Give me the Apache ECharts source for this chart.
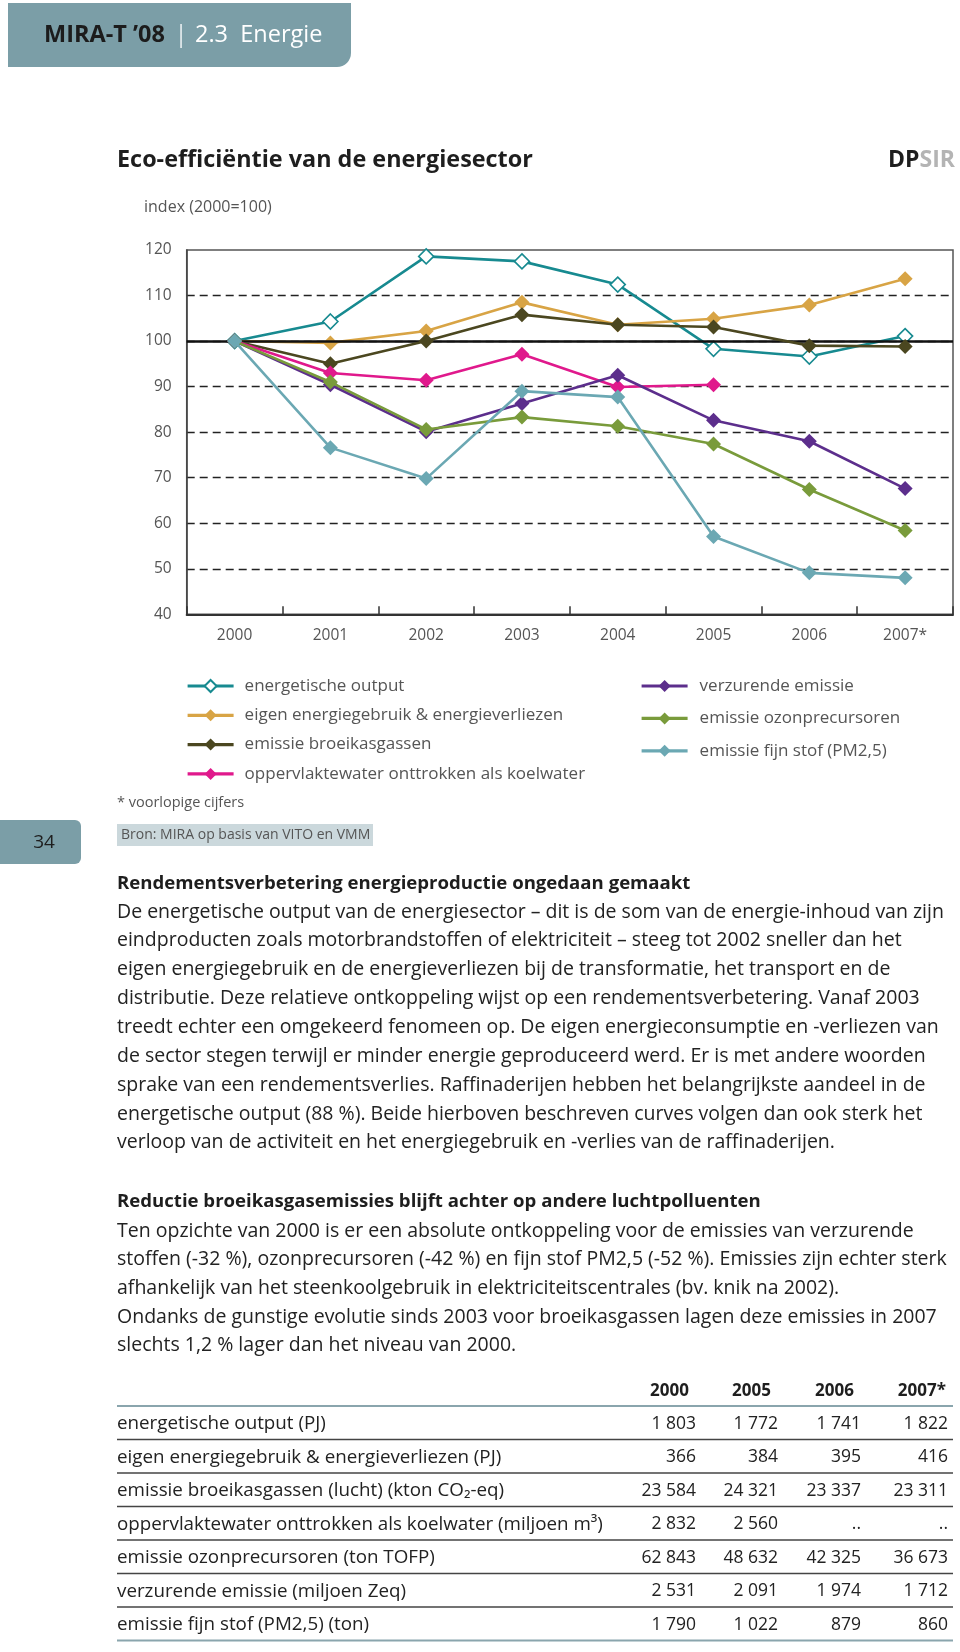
<!DOCTYPE html>
<html>
<head>
<meta charset="utf-8">
<script src="https://cdn.jsdelivr.net/npm/echarts@6/dist/echarts.min.js"></script>
<style>html,body{margin:0;padding:0;background:#fff}#c{width:960px;height:1652px}</style>
</head>
<body>
<div id="c"></div>
<script>
// ---- data ----
const years = ['2000','2001','2002','2003','2004','2005','2006','2007*'];
const seriesNames = ['energetische output','eigen energiegebruik & energieverliezen','emissie broeikasgassen','oppervlaktewater onttrokken als koelwater','verzurende emissie','emissie ozonprecursoren','emissie fijn stof (PM2,5)'];
const energetischeOutput = [100, 104.3, 118.6, 117.5, 112.4, 98.3, 96.6, 101.1];
const eigenGebruik = [100, 99.6, 102.2, 108.5, 103.6, 104.9, 107.9, 113.7];
const broeikasgassen = [100, 95.0, 100.0, 105.8, 103.6, 103.1, 99.0, 98.8];
const koelwater = [100, 93.0, 91.4, 97.1, 89.9, 90.4, null, null];
const verzurend = [100, 90.4, 80.1, 86.3, 92.5, 82.6, 78.0, 67.6];
const ozon = [100, 91.0, 80.6, 83.3, 81.3, 77.4, 67.4, 58.4];
const fijnStof = [100, 76.6, 69.8, 89.0, 87.7, 57.1, 49.1, 48.0];
const yTicks = [40, 50, 60, 70, 80, 90, 100, 110, 120];

const paragraph1 = [
 'De energetische output van de energiesector – dit is de som van de energie-inhoud van zijn',
 'eindproducten zoals motorbrandstoffen of elektriciteit – steeg tot 2002 sneller dan het',
 'eigen energiegebruik en de energieverliezen bij de transformatie, het transport en de',
 'distributie. Deze relatieve ontkoppeling wijst op een rendementsverbetering. Vanaf 2003',
 'treedt echter een omgekeerd fenomeen op. De eigen energieconsumptie en -verliezen van',
 'de sector stegen terwijl er minder energie geproduceerd werd. Er is met andere woorden',
 'sprake van een rendementsverlies. Raffinaderijen hebben het belangrijkste aandeel in de',
 'energetische output (88 %). Beide hierboven beschreven curves volgen dan ook sterk het',
 'verloop van de activiteit en het energiegebruik en -verlies van de raffinaderijen.'
];
const paragraph2 = [
 'Ten opzichte van 2000 is er een absolute ontkoppeling voor de emissies van verzurende',
 'stoffen (-32 %), ozonprecursoren (-42 %) en fijn stof PM2,5 (-52 %). Emissies zijn echter sterk',
 'afhankelijk van het steenkoolgebruik in elektriciteitscentrales (bv. knik na 2002).',
 'Ondanks de gunstige evolutie sinds 2003 voor broeikasgassen lagen deze emissies in 2007',
 'slechts 1,2 % lager dan het niveau van 2000.'
];
const tableYears = ['2000','2005','2006','2007*'];
const tableLabels = ['energetische output (PJ)','eigen energiegebruik & energieverliezen (PJ)','emissie broeikasgassen (lucht) (kton CO₂-eq)','oppervlaktewater onttrokken als koelwater (miljoen m³)','emissie ozonprecursoren (ton TOFP)','verzurende emissie (miljoen Zeq)','emissie fijn stof (PM2,5) (ton)'];
const tableCol2000 = ['1 803','366','23 584','2 832','62 843','2 531','1 790'];
const tableCol2005 = ['1 772','384','24 321','2 560','48 632','2 091','1 022'];
const tableCol2006 = ['1 741','395','23 337','..','42 325','1 974','879'];
const tableCol2007 = ['1 822','416','23 311','..','36 673','1 712','860'];

// ---- styles ----
const colors = ['#178a90','#d8a445','#4b4720','#e0198c','#5c2e8c','#799b3b','#6ba8b3'];
const FONT = '"Open Sans", "Noto Sans", sans-serif';
const chart = echarts.init(document.getElementById('c'), null, {renderer:'canvas', width:960, height:1652});

const allData = [energetischeOutput, eigenGebruik, broeikasgassen, koelwater, verzurend, ozon, fijnStof];
const series = [{
  type:'line', name:'ref', data:[], silent:true,
  markLine:{silent:true, symbol:'none', label:{show:false}, lineStyle:{color:'#111', width:2.5, type:'solid'}, data:[{yAxis:100}], animation:false}
}];
allData.forEach((d,i)=>{
  series.push({
    type:'line', name:seriesNames[i], data:d, symbol:'diamond', symbolSize:15,
    lineStyle:{color:colors[i], width:2.6},
    itemStyle: i===0 ? {color:'#fff', borderColor:colors[i], borderWidth:1.6} : {color:colors[i], borderColor:colors[i], borderWidth:0},
    connectNulls:false, z:3+i
  });
});

const g = [];
const DY = 6; // text block offset
// header
g.push({type:'rect', shape:{x:8,y:3,width:343,height:64,r:[0,0,14,0]}, style:{fill:'#7b9ea7'}});
g.push({type:'text', x:44, y:35, style:{text:'{a|MIRA-T ’08}{b| \u2009|\u2009\u2009}{c|2.3  Energie}', rich:{a:{font:'bold 23.5px '+FONT, fill:'#1c1c1c'}, b:{font:'23px '+FONT, fill:'#e8eef0'}, c:{font:'23.5px '+FONT, fill:'#ffffff'}}, textVerticalAlign:'middle'}});
// title
g.push({type:'text', x:117, y:160, style:{text:'Eco-efficiëntie van de energiesector', font:'bold 23.4px '+FONT, fill:'#1e1e1e', textVerticalAlign:'middle'}});
g.push({type:'text', x:955, y:160, style:{text:'{a|DP}{b|SIR}', rich:{a:{font:'bold 23px '+FONT, fill:'#1e1e1e'}, b:{font:'bold 23px '+FONT, fill:'#b4b4b4'}}, textAlign:'right', textVerticalAlign:'middle'}});
g.push({type:'text', x:144, y:207, style:{text:'index (2000=100)', font:'16px '+FONT, fill:'#555', textVerticalAlign:'middle'}});
// footnotes
g.push({type:'text', x:117, y:803, style:{text:'* voorlopige cijfers', font:'14.5px '+FONT, fill:'#555', textVerticalAlign:'middle'}});
g.push({type:'rect', shape:{x:0,y:820,width:81,height:44,r:[0,6,6,0]}, style:{fill:'#7b9ea7'}});
g.push({type:'text', x:44, y:843, style:{text:'34', font:'19px '+FONT, fill:'#1e1e1e', textAlign:'center', textVerticalAlign:'middle'}});
g.push({type:'rect', shape:{x:117,y:824,width:256,height:22}, style:{fill:'#cbd8dc'}});
g.push({type:'text', x:121, y:835, style:{text:'Bron: MIRA op basis van VITO en VMM', font:'14px '+FONT, fill:'#555', textVerticalAlign:'middle'}});
// paragraphs
g.push({type:'text', x:117, y:878+DY, style:{text:'Rendementsverbetering energieproductie ongedaan gemaakt', font:'bold 18.6px '+FONT, fill:'#1e1e1e', textVerticalAlign:'middle'}});
paragraph1.forEach((t,i)=>g.push({type:'text', x:117, y:906+DY+i*28.85, style:{text:t, font:'19.5px '+FONT, fill:'#222', textVerticalAlign:'middle'}}));
g.push({type:'text', x:117, y:1196+DY, style:{text:'Reductie broeikasgasemissies blijft achter op andere luchtpolluenten', font:'bold 18.6px '+FONT, fill:'#1e1e1e', textVerticalAlign:'middle'}});
paragraph2.forEach((t,i)=>g.push({type:'text', x:117, y:1225+DY+i*28.7, style:{text:t, font:'19.5px '+FONT, fill:'#222', textVerticalAlign:'middle'}}));
// table
const hdrRight = [689, 771, 854, 946];
const colRight = [696, 778, 861, 948];
const cols = [tableCol2000, tableCol2005, tableCol2006, tableCol2007];
tableYears.forEach((y,j)=>g.push({type:'text', x:hdrRight[j], y:1391, style:{text:y, font:'bold 17px '+FONT, fill:'#1e1e1e', textAlign:'right', textVerticalAlign:'middle'}}));
g.push({type:'line', shape:{x1:117,y1:1406,x2:953,y2:1406}, style:{stroke:'#8aa5ad', lineWidth:2}});
tableLabels.forEach((lab,i)=>{
  const yy = 1424 + i*33.5;
  g.push({type:'text', x:117, y:yy, style:{text:lab, font:'18.8px '+FONT, fill:'#222', textVerticalAlign:'middle'}});
  cols.forEach((c,j)=>g.push({type:'text', x:colRight[j], y:yy, style:{text:c[i], font:'17.5px '+FONT, fill:'#222', textAlign:'right', textVerticalAlign:'middle'}}));
  const ly = 1439.5 + i*33.5;
  g.push({type:'line', shape:{x1:117,y1:ly,x2:953,y2:ly}, style:{stroke: i===tableLabels.length-1 ? '#8aa5ad' : '#444', lineWidth: i===tableLabels.length-1 ? 2 : 1.3}});
});

const legendCommon = {orient:'vertical', itemWidth:46, itemHeight:15, lineStyle:{width:3.2}, itemStyle:{}, textStyle:{color:'#555', fontSize:17, fontFamily:FONT}, selectedMode:false};
chart.setOption({
  animation:false,
  backgroundColor:'#fff',
  textStyle:{fontFamily:FONT},
  grid:{left:186.7, right:7, top:250, bottom:1037.7, show:true, borderColor:'#555', borderWidth:1.5, containLabel:false},
  xAxis:{type:'category', data:years, boundaryGap:true,
    axisLine:{lineStyle:{color:'#333', width:2}},
    axisTick:{show:true, inside:true, length:8, interval:0, lineStyle:{color:'#333', width:1.5}},
    axisLabel:{color:'#555', fontSize:15.5, margin:13, fontFamily:FONT}},
  yAxis:{type:'value', min:yTicks[0], max:yTicks[yTicks.length-1], interval:10,
    axisLine:{show:true, lineStyle:{color:'#444', width:1.5}},
    axisTick:{show:false},
    axisLabel:{color:'#555', fontSize:15.5, margin:15, fontFamily:FONT},
    splitLine:{show:true, showMinLine:false, showMaxLine:false, lineStyle:{color:'#222', width:1.4, type:[8,5]}}},
  legend:[
    Object.assign({}, legendCommon, {data:seriesNames.slice(0,4), left:181, top:672.5, itemGap:12.3, textStyle:Object.assign({}, legendCommon.textStyle, {padding:[0,0,0,6]})}),
    Object.assign({}, legendCommon, {data:seriesNames.slice(4), left:635, top:672.5, itemGap:15.4, textStyle:Object.assign({}, legendCommon.textStyle, {padding:[0,0,0,7]})})
  ],
  series:series,
  graphic:{elements:g}
});
</script>
</body>
</html>
